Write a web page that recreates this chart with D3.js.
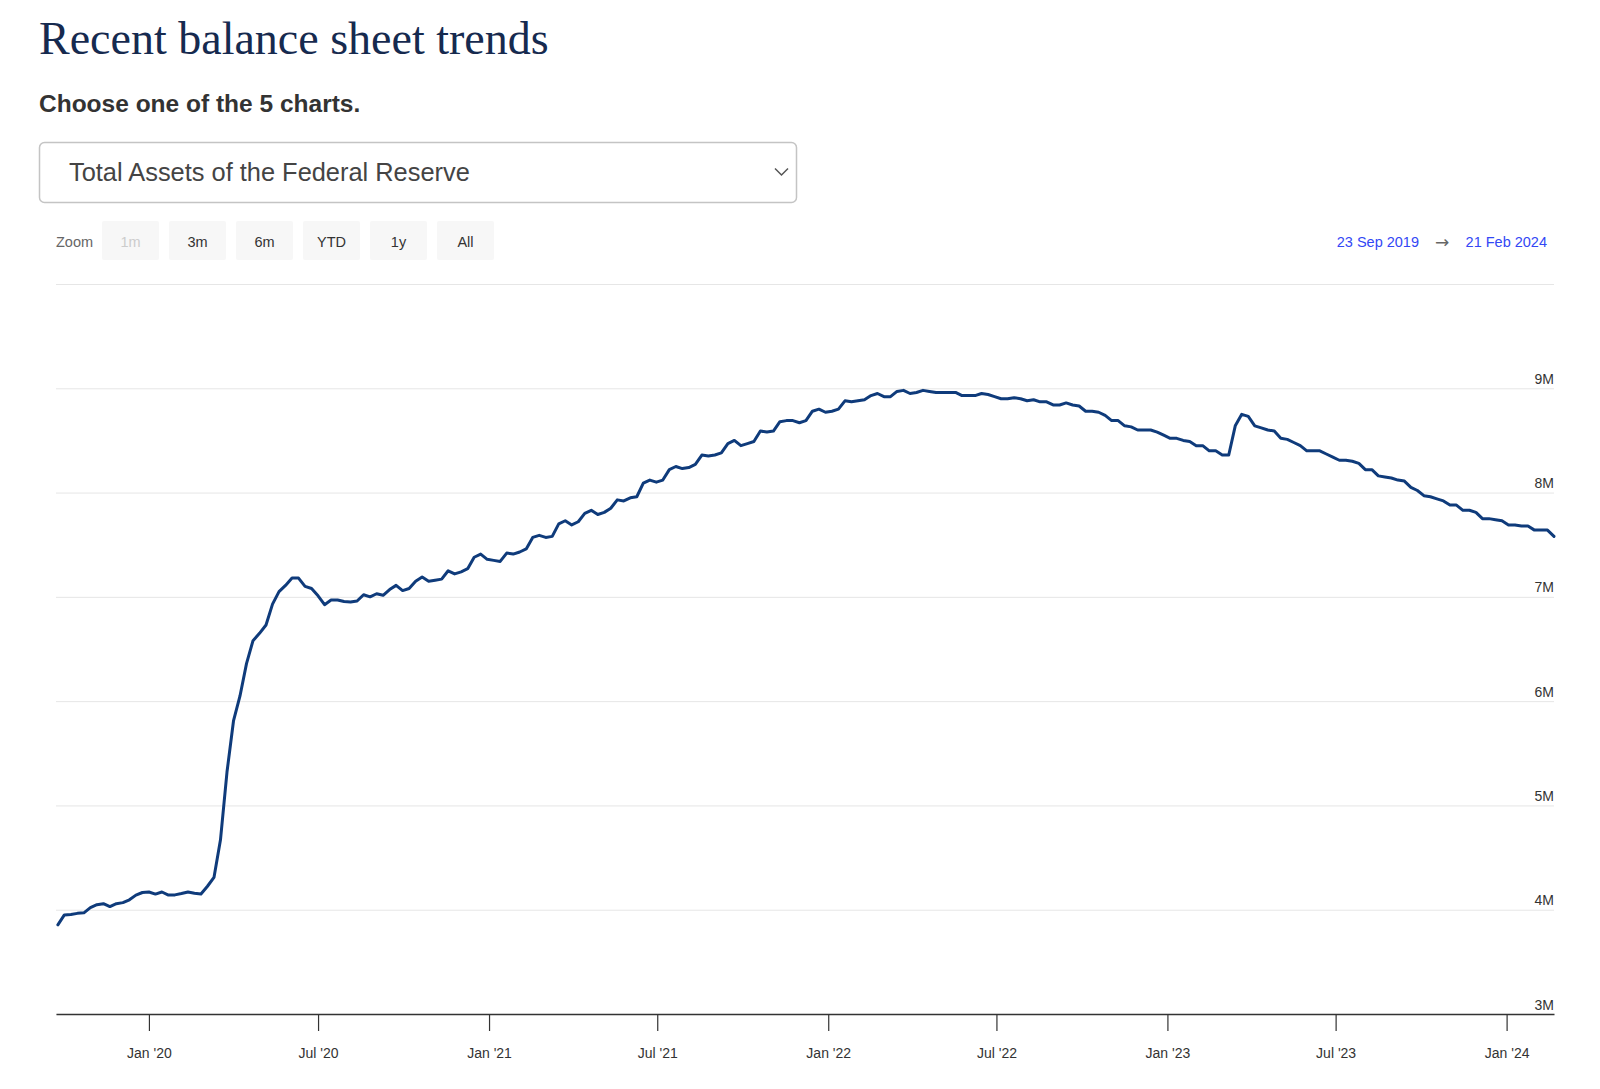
<!DOCTYPE html>
<html>
<head>
<meta charset="utf-8">
<title>Recent balance sheet trends</title>
<script src="https://d3js.org/d3.v7.min.js"></script>
<style>
	body { margin: 0; background: #ffffff; }
	text { font-family: "Liberation Sans", Arial, Helvetica, sans-serif; }
</style>
</head>
<body>
<script>
//weekly total assets (Wednesdays), in trillions of dollars
//the chart itself counts in millions of dollars, so 9M on the axis = 9 trillion
var assets2019 = [3.855, 3.950, 3.955, 3.965, 3.970, 4.020, 4.048, 4.058, 4.030, 4.058, 4.068, 4.095, 4.140, 4.165];
var assets2020 = [4.170, 4.150, 4.170, 4.140, 4.142, 4.155, 4.170, 4.158, 4.150, 4.225, 4.310, 4.670, 5.320,
	5.810, 6.050, 6.360, 6.580, 6.650, 6.730, 6.930, 7.050, 7.110, 7.180, 7.180, 7.100, 7.080,
	7.010, 6.925, 6.970, 6.970, 6.955, 6.950, 6.960, 7.020, 7.000, 7.030, 7.015, 7.070, 7.110,
	7.060, 7.080, 7.150, 7.190, 7.150, 7.160, 7.170, 7.250, 7.220, 7.240, 7.270, 7.380, 7.410, 7.360];
var assets2021 = [7.35, 7.34, 7.42, 7.41, 7.43, 7.46, 7.57, 7.59, 7.57, 7.58, 7.70, 7.73, 7.69,
	7.72, 7.80, 7.83, 7.79, 7.81, 7.85, 7.93, 7.92, 7.95, 7.96, 8.09, 8.12, 8.10,
	8.12, 8.22, 8.25, 8.23, 8.24, 8.27, 8.36, 8.35, 8.36, 8.38, 8.47, 8.50, 8.45,
	8.47, 8.49, 8.59, 8.58, 8.59, 8.68, 8.69, 8.69, 8.67, 8.69, 8.78, 8.80, 8.77];
var assets2022 = [8.78, 8.80, 8.88, 8.87, 8.88, 8.89, 8.93, 8.95, 8.92, 8.92, 8.97, 8.98, 8.95,
	8.96, 8.98, 8.97, 8.96, 8.96, 8.96, 8.96, 8.93, 8.93, 8.93, 8.95, 8.94, 8.92,
	8.90, 8.90, 8.91, 8.90, 8.88, 8.89, 8.87, 8.87, 8.84, 8.84, 8.86, 8.84, 8.83,
	8.78, 8.78, 8.77, 8.74, 8.69, 8.69, 8.64, 8.63, 8.60, 8.60, 8.60, 8.58, 8.55];
var assets2023 = [8.52, 8.52, 8.50, 8.49, 8.45, 8.45, 8.40, 8.40, 8.36, 8.36, 8.64, 8.75, 8.73,
	8.64, 8.62, 8.60, 8.59, 8.52, 8.51, 8.48, 8.45, 8.40, 8.40, 8.40, 8.37, 8.34,
	8.31, 8.31, 8.30, 8.28, 8.22, 8.22, 8.16, 8.15, 8.14, 8.12, 8.11, 8.05, 8.02,
	7.97, 7.96, 7.94, 7.92, 7.88, 7.88, 7.83, 7.83, 7.81, 7.75, 7.75, 7.74, 7.73];
var assets2024 = [7.69, 7.69, 7.68, 7.68, 7.64, 7.64, 7.64, 7.58];

//text bits
var zoomLabels = ["1m", "3m", "6m", "YTD", "1y", "All"];
var yTickValues = [3e6, 4e6, 5e6, 6e6, 7e6, 8e6, 9e6, 10e6];
var rangeFrom = "23 Sep 2019";
var rangeTo = "21 Feb 2024";

window.onload = function(){

	var w = 1600, h = 1089;

	//pair each year's values with that year's Wednesdays
	var years = [
		{ weeks: d3.timeWednesday.range(new Date(2019, 8, 25), new Date(2020, 0, 1)), values: assets2019 },
		{ weeks: d3.timeWednesday.range(new Date(2020, 0, 1), new Date(2021, 0, 1)), values: assets2020 },
		{ weeks: d3.timeWednesday.range(new Date(2021, 0, 1), new Date(2022, 0, 1)), values: assets2021 },
		{ weeks: d3.timeWednesday.range(new Date(2022, 0, 1), new Date(2023, 0, 1)), values: assets2022 },
		{ weeks: d3.timeWednesday.range(new Date(2023, 0, 1), new Date(2024, 0, 1)), values: assets2023 },
		{ weeks: d3.timeWednesday.range(new Date(2024, 0, 1), new Date(2024, 1, 22)), values: assets2024 }
	];
	var series = [];
	years.forEach(function(yr){
		yr.values.forEach(function(v, i){
			series.push({ date: yr.weeks[i], value: v * 1e6 }); //to millions of dollars
		});
	});

	var svg = d3.select("body")
		.append("svg")
		.attr("width", w)
		.attr("height", h)
		.attr("class", "container");

	//TITLE + prompt
	svg.append("text")
		.attr("x", 39)
		.attr("y", 54)
		.style("font-family", "'Liberation Serif', 'Times New Roman', serif")
		.style("font-size", "46px")
		.style("fill", "#162a4f")
		.text("Recent balance sheet trends");

	svg.append("text")
		.attr("x", 39)
		.attr("y", 112)
		.style("font-size", "24.5px")
		.style("font-weight", "bold")
		.style("fill", "#333333")
		.text("Choose one of the 5 charts.");

	//DROPDOWN (drawn, not a real select)
	svg.append("rect")
		.attr("x", 39.5)
		.attr("y", 142.5)
		.attr("width", 757)
		.attr("height", 60)
		.attr("rx", 5)
		.style("fill", "#ffffff")
		.style("stroke", "#c4c4c4")
		.style("stroke-width", 1.5);

	svg.append("text")
		.attr("x", 69)
		.attr("y", 181)
		.style("font-size", "25.4px")
		.style("fill", "#444444")
		.text("Total Assets of the Federal Reserve");

	svg.append("path")
		.attr("d", "M775,168.5L781.5,175L788,168.5")
		.style("fill", "none")
		.style("stroke", "#555555")
		.style("stroke-width", 1.5);

	//ZOOM BUTTONS
	svg.append("text")
		.attr("x", 56)
		.attr("y", 242)
		.attr("dy", "0.35em")
		.style("font-size", "14.5px")
		.style("fill", "#666666")
		.text("Zoom");

	var buttons = svg.selectAll(".zoomBtn")
		.data(zoomLabels)
		.enter()
		.append("g")
		.attr("class", "zoomBtn")
		.attr("transform", function(d, i){ return "translate(" + (102 + i * 67) + ",221)"; });

	buttons.append("rect")
		.attr("width", 57)
		.attr("height", 39)
		.attr("rx", 2)
		.style("fill", "#f7f7f7");

	buttons.append("text")
		.attr("x", 28.5)
		.attr("y", 21)
		.attr("dy", "0.35em")
		.attr("text-anchor", "middle")
		.style("font-size", "14.5px")
		.style("fill", function(d, i){ return i === 0 ? "#cccccc" : "#333333"; })
		.text(function(d){ return d; });

	//DATE RANGE
	svg.append("text")
		.attr("x", 1419)
		.attr("y", 242)
		.attr("dy", "0.35em")
		.attr("text-anchor", "end")
		.style("font-size", "14.5px")
		.style("fill", "#3347f5")
		.text(rangeFrom);

	svg.append("text")
		.attr("x", 1442)
		.attr("y", 242)
		.attr("dy", "0.35em")
		.attr("text-anchor", "middle")
		.style("font-family", "'DejaVu Sans', sans-serif")
		.style("font-size", "17px")
		.style("fill", "#666666")
		.text("\u2192");

	svg.append("text")
		.attr("x", 1547)
		.attr("y", 242)
		.attr("dy", "0.35em")
		.attr("text-anchor", "end")
		.style("font-size", "14.5px")
		.style("fill", "#3347f5")
		.text(rangeTo);

	//SCALES
	var left = 56, right = 1554, top = 284, bottom = 1014;

	var x = d3.scaleTime()
		.domain([new Date(2019, 8, 23), new Date(2024, 1, 21)])
		.range([left, right]);

	var y = d3.scaleLinear()
		.domain([3e6, 10e6])
		.range([bottom, top]);

	//GRIDLINES + right side labels
	var yAxis = d3.axisRight(y)
		.tickValues(yTickValues)
		.tickSize(right - left)
		.tickFormat(function(d){ return d === 10e6 ? "" : d3.format("~s")(d); });

	var yG = svg.append("g")
		.attr("class", "axis y")
		.attr("transform", "translate(" + left + ",0)")
		.call(yAxis);

	yG.select(".domain").remove();
	yG.selectAll(".tick line")
		.style("stroke", "#e6e6e6")
		.style("stroke-width", 1);
	yG.selectAll(".tick text")
		.attr("x", right - left)
		.attr("dy", -5)
		.attr("text-anchor", "end")
		.style("font-size", "14px")
		.style("font-family", "'Liberation Sans', Arial, sans-serif")
		.style("fill", "#333333");

	//X AXIS
	var xAxis = d3.axisBottom(x)
		.ticks(d3.timeMonth.every(6))
		.tickFormat(d3.timeFormat("%b '%y"))
		.tickSize(17)
		.tickSizeOuter(0)
		.tickPadding(17);

	var xG = svg.append("g")
		.attr("class", "axis x")
		.attr("transform", "translate(0," + bottom + ")")
		.call(xAxis);

	xG.select(".domain")
		.style("stroke", "#333333")
		.style("stroke-width", 1.5);
	xG.selectAll(".tick line")
		.style("stroke", "#333333")
		.style("stroke-width", 1.2);
	xG.selectAll(".tick text")
		.style("font-size", "14px")
		.style("font-family", "'Liberation Sans', Arial, sans-serif")
		.style("fill", "#333333");

	//THE LINE
	var line = d3.line()
		.x(function(d){ return x(d.date); })
		.y(function(d){ return y(d.value); });

	svg.append("path")
		.datum(series)
		.attr("class", "assetsLine")
		.attr("d", line)
		.style("fill", "none")
		.style("stroke", "#0f3b7b")
		.style("stroke-width", 3)
		.style("stroke-linejoin", "round")
		.style("stroke-linecap", "round");
};
</script>
</body>
</html>
